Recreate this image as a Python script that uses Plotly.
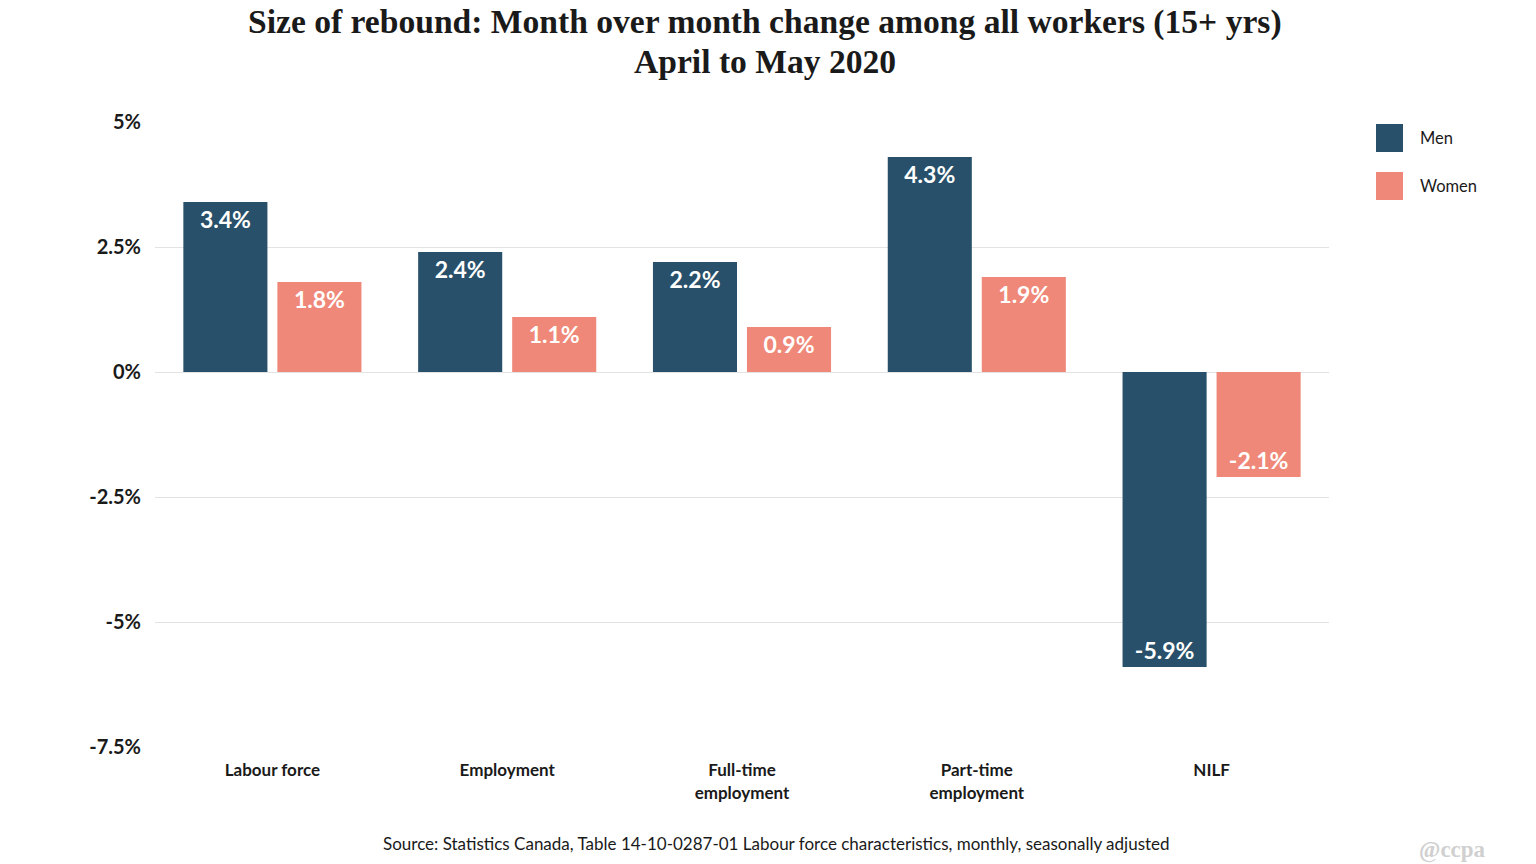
import plotly.graph_objects as go

categories = ["Labour force", "Employment", "Full-time<br>employment", "Part-time<br>employment", "NILF"]
men = [3.4, 2.4, 2.2, 4.3, -5.9]
women = [1.8, 1.1, 0.9, 1.9, -2.1]
men_labels = ["3.4%", "2.4%", "2.2%", "4.3%", "-5.9%"]
women_labels = ["1.8%", "1.1%", "0.9%", "1.9%", "-2.1%"]
tick_vals = [5, 2.5, 0, -2.5, -5, -7.5]
tick_text = ["5%", "2.5%", "0%", "-2.5%", "-5%", "-7.5%"]

MEN_C = "#28506a"
WOMEN_C = "#ef8878"
TXT = "#1a1a1a"

PLOT_L, PLOT_W = 155, 1174


def px(x):  # reference pixel x -> paper
    return (x - PLOT_L) / PLOT_W


def py(y):  # reference pixel y -> paper
    return (747 - y) / 625


fig = go.Figure()
for name, vals, labels, col in [("Men", men, men_labels, MEN_C), ("Women", women, women_labels, WOMEN_C)]:
    fig.add_trace(go.Bar(
        x=categories, y=vals, name=name, marker=dict(color=col, line=dict(width=0)),
        text=labels, textposition="inside", insidetextanchor="end",
        textfont=dict(family="Lato", size=23, color="white", weight="bold"),
        textangle=0, constraintext="none", showlegend=False, cliponaxis=False,
    ))

fig.update_layout(
    width=1528, height=856,
    paper_bgcolor="white", plot_bgcolor="white",
    margin=dict(l=PLOT_L - 8, r=1528 - (PLOT_L - 8) - PLOT_W, t=114, b=117),
    barmode="group", bargap=0.199, bargroupgap=0.106,
    xaxis=dict(
        showgrid=False, showline=False, zeroline=False,
        ticks="outside", ticklen=8, tickcolor="rgba(0,0,0,0)",
        tickfont=dict(family="Lato", size=17, color=TXT, weight="bold"),
    ),
    yaxis=dict(
        range=[-7.5, 5], tickvals=tick_vals, ticktext=tick_text,
        showgrid=True, gridcolor="#e3e3e3", gridwidth=1,
        zeroline=True, zerolinecolor="#e3e3e3", zerolinewidth=1,
        showline=False, ticks="outside", ticklen=9, tickcolor="rgba(0,0,0,0)",
        tickfont=dict(family="Lato", size=20, color=TXT, weight="bold"),
    ),
    font=dict(family="Lato"),
)

# title (two lines)
for line, ypix in [("Size of rebound: Month over month change among all workers (15+ yrs)", 22),
                   ("April to May 2020", 62)]:
    fig.add_annotation(xref="paper", yref="paper", x=px(765), y=py(ypix), text=line,
                       showarrow=False, xanchor="center", yanchor="middle",
                       font=dict(family="Liberation Serif", size=33.6, color=TXT, weight="bold"))

# custom legend with large swatches
for name, col, ypix in [("Men", MEN_C, 138), ("Women", WOMEN_C, 186)]:
    fig.add_shape(type="rect", xref="paper", yref="paper",
                  x0=px(1376), x1=px(1403), y0=py(ypix + 14), y1=py(ypix - 14),
                  fillcolor=col, line=dict(width=0))
    fig.add_annotation(xref="paper", yref="paper", x=px(1418), y=py(ypix),
                       text=name, showarrow=False, xanchor="left", yanchor="middle",
                       font=dict(family="Lato", size=16.5, color=TXT))

fig.add_annotation(xref="paper", yref="paper", x=px(776), y=py(843),
                   text="Source: Statistics Canada, Table 14-10-0287-01 Labour force characteristics, monthly, seasonally adjusted",
                   showarrow=False, xanchor="center", yanchor="middle",
                   font=dict(family="Lato", size=17, color=TXT))
fig.add_annotation(xref="paper", yref="paper", x=px(1488), y=py(850),
                   text="@ccpa", showarrow=False, xanchor="right", yanchor="middle",
                   font=dict(family="Liberation Serif", size=23, color="#d0d0d0", weight="bold"))

fig.write_html("out.html")
